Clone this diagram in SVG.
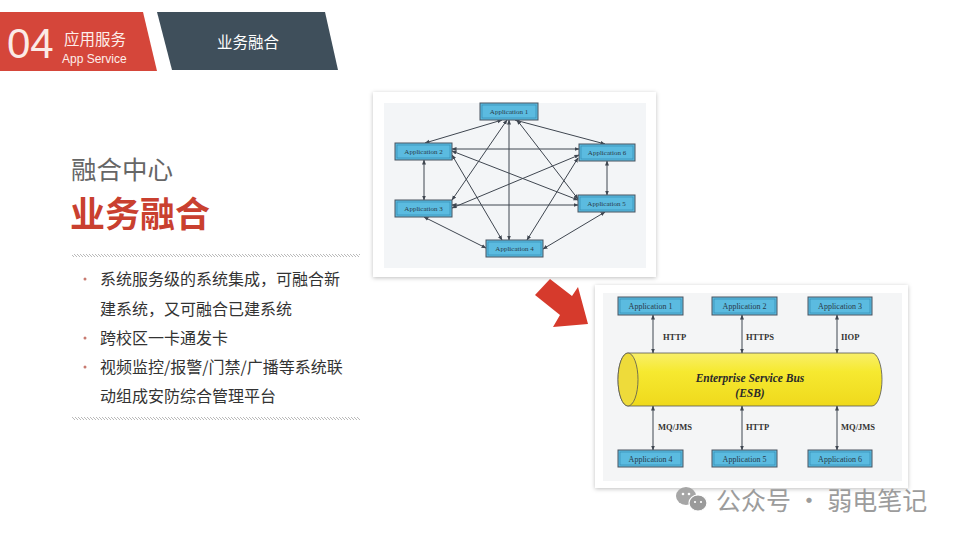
<svg xmlns="http://www.w3.org/2000/svg" width="960" height="540" viewBox="0 0 960 540">
<defs>
<style>
.cjk{font-family:"Noto Sans CJK SC","Liberation Sans",sans-serif}
.lat{font-family:"Liberation Sans",Arial,sans-serif}
.body{font-size:16px;fill:#333}
.app rect.o{fill:#5bbbe0;stroke:#4a5560;stroke-width:1}
.app rect.i{fill:none;stroke:#2f86ad;stroke-width:0.6}
.app text{font-family:"Liberation Serif","Times New Roman",serif;fill:#2a3a48;text-anchor:middle}
.t7{font-size:7px}
.t8{font-size:8px}
.cn{stroke:#3f4650;stroke-width:1;fill:none;marker-start:url(#ah);marker-end:url(#ah)}
.lbl{font-family:"Liberation Serif","Times New Roman",serif;font-weight:bold;font-size:8.5px;fill:#333}
</style>
<marker id="ah" viewBox="0 0 10 10" refX="9" refY="5" markerWidth="5" markerHeight="5" orient="auto-start-reverse" markerUnits="userSpaceOnUse">
<path d="M0,1 L10,5 L0,9 Z" fill="#3f4650"/>
</marker>
<pattern id="hatch" width="3" height="3" patternUnits="userSpaceOnUse">
<path d="M0,0 L3,3" stroke="#a8a8a8" stroke-width="0.8"/>
</pattern>
<filter id="sh" x="-10%" y="-10%" width="120%" height="120%">
<feDropShadow dx="0" dy="1" stdDeviation="2" flood-color="#000" flood-opacity="0.25"/>
</filter>
<linearGradient id="yel" x1="0" y1="0" x2="0" y2="1">
<stop offset="0" stop-color="#f8ef6a"/>
<stop offset="0.35" stop-color="#f6e930"/>
<stop offset="1" stop-color="#efd91c"/>
</linearGradient>
</defs>
<rect width="960" height="540" fill="#ffffff"/>

<g id="header">
<polygon points="0,12 143,12 157,71 0,71" fill="#d5463a"/>
<polygon points="157,12 325,12 338,70 172,70" fill="#3f4f5b"/>
<text x="7" y="58" class="lat" font-size="42" fill="#fbeae6">04</text>
<text x="64" y="45" class="cjk" font-size="15.5" fill="#fdeeea">应用服务</text>
<text x="62" y="63" class="lat" font-size="12" fill="#fdeeea">App Service</text>
<text x="248" y="48" class="cjk" font-size="15.5" fill="#ffffff" text-anchor="middle">业务融合</text>
</g>

<g id="title">
<text x="71" y="178.5" class="cjk" font-size="25.5" fill="#666666">融合中心</text>
<text x="70" y="226.5" class="cjk" font-size="35" font-weight="bold" fill="#c9402f">业务融合</text>
<rect x="72" y="254" width="288" height="3" fill="url(#hatch)"/>
<rect x="72" y="417" width="288" height="3" fill="url(#hatch)"/>
</g>

<g id="bullets">
<circle cx="85" cy="279" r="1.5" fill="#c87a70"/>
<circle cx="85" cy="338" r="1.5" fill="#c87a70"/>
<circle cx="85" cy="367" r="1.5" fill="#c87a70"/>
<text x="100" y="285" class="cjk body">系统服务级的系统集成，可融合新</text>
<text x="100" y="315" class="cjk body">建系统，又可融合已建系统</text>
<text x="100" y="344" class="cjk body">跨校区一卡通发卡</text>
<text x="100" y="373" class="cjk body">视频监控/报警/门禁/广播等系统联</text>
<text x="100" y="402" class="cjk body">动组成安防综合管理平台</text>
</g>

<g id="picture-mesh">
<rect x="373" y="92" width="283" height="185" fill="#ffffff" filter="url(#sh)"/>
<rect x="384" y="103" width="262" height="165" fill="#f3f5f7"/>
</g>

<g id="mesh-connectors">
<line class="cn" x1="502" y1="120" x2="425" y2="143"/>
<line class="cn" x1="515" y1="120" x2="605" y2="144"/>
<line class="cn" x1="509" y1="120" x2="509" y2="240"/>
<line class="cn" x1="507" y1="120" x2="452" y2="200"/>
<line class="cn" x1="517" y1="120" x2="578" y2="199"/>
<line class="cn" x1="452" y1="149" x2="579" y2="149"/>
<line class="cn" x1="452" y1="151" x2="578" y2="200"/>
<line class="cn" x1="452" y1="155" x2="502" y2="240"/>
<line class="cn" x1="424" y1="160" x2="424" y2="200"/>
<line class="cn" x1="579" y1="155" x2="452" y2="208"/>
<line class="cn" x1="578" y1="158" x2="527" y2="240"/>
<line class="cn" x1="607" y1="161" x2="607" y2="195"/>
<line class="cn" x1="452" y1="205" x2="578" y2="205"/>
<line class="cn" x1="424" y1="217" x2="486" y2="248"/>
<line class="cn" x1="605" y1="212" x2="543" y2="249"/>
</g>

<g id="m-app1" class="app"><rect class="o" x="480" y="103" width="58" height="17"/><rect class="i" x="482" y="105" width="54" height="13"/><text class="t7" x="509" y="114">Application 1</text></g>
<g id="m-app2" class="app"><rect class="o" x="395" y="143" width="57" height="17"/><rect class="i" x="397" y="145" width="53" height="13"/><text class="t7" x="423.5" y="154">Application 2</text></g>
<g id="m-app6" class="app"><rect class="o" x="579" y="144" width="56" height="17"/><rect class="i" x="581" y="146" width="52" height="13"/><text class="t7" x="607" y="155">Application 6</text></g>
<g id="m-app3" class="app"><rect class="o" x="395" y="200" width="57" height="17"/><rect class="i" x="397" y="202" width="53" height="13"/><text class="t7" x="423.5" y="211">Application 3</text></g>
<g id="m-app5" class="app"><rect class="o" x="578" y="195" width="57" height="17"/><rect class="i" x="580" y="197" width="53" height="13"/><text class="t7" x="606.5" y="206">Application 5</text></g>
<g id="m-app4" class="app"><rect class="o" x="486" y="240" width="57" height="17"/><rect class="i" x="488" y="242" width="53" height="13"/><text class="t7" x="514.5" y="251">Application 4</text></g>

<g id="red-arrow">
<polygon points="535,295 550,279 572,296 578,287 588,324 553,327 560,315" fill="#d63a2c"/>
</g>

<g id="picture-esb">
<rect x="595" y="285" width="313" height="203" fill="#ffffff" filter="url(#sh)"/>
<rect x="603" y="293" width="299" height="188" fill="#f4f5f6"/>
</g>

<g id="esb-bus">
<path d="M628,353 L872,353 A10,26.5 0 0 1 872,406 L628,406 A10,26.5 0 0 1 628,353 Z" fill="url(#yel)" stroke="#555" stroke-width="0.8"/>
<ellipse cx="628" cy="379.5" rx="10" ry="26.5" fill="#eedb3a" stroke="#555" stroke-width="0.8"/>
<text x="750" y="382" text-anchor="middle" font-family="Liberation Serif,Times New Roman,serif" font-weight="bold" font-style="italic" font-size="11.5" fill="#2a2a2a">Enterprise Service Bus</text>
<text x="750" y="397" text-anchor="middle" font-family="Liberation Serif,Times New Roman,serif" font-weight="bold" font-style="italic" font-size="11.5" fill="#2a2a2a">(ESB)</text>
</g>

<g id="esb-connectors">
<line class="cn" x1="653" y1="315" x2="653" y2="353"/>
<line class="cn" x1="742" y1="315" x2="742" y2="353"/>
<line class="cn" x1="837" y1="315" x2="837" y2="353"/>
<line class="cn" x1="653" y1="406" x2="653" y2="450"/>
<line class="cn" x1="742" y1="406" x2="742" y2="450"/>
<line class="cn" x1="837" y1="406" x2="837" y2="450"/>
<text class="lbl" x="663" y="340">HTTP</text>
<text class="lbl" x="746" y="340">HTTPS</text>
<text class="lbl" x="841" y="340">IIOP</text>
<text class="lbl" x="658" y="430">MQ/JMS</text>
<text class="lbl" x="746" y="430">HTTP</text>
<text class="lbl" x="841" y="430">MQ/JMS</text>
</g>

<g id="e-app1" class="app"><rect class="o" x="618" y="297" width="65" height="18"/><rect class="i" x="620" y="299" width="61" height="14"/><text class="t8" x="650.5" y="309">Application 1</text></g>
<g id="e-app2" class="app"><rect class="o" x="712" y="297" width="65" height="18"/><rect class="i" x="714" y="299" width="61" height="14"/><text class="t8" x="744.5" y="309">Application 2</text></g>
<g id="e-app3" class="app"><rect class="o" x="808" y="297" width="64" height="18"/><rect class="i" x="810" y="299" width="60" height="14"/><text class="t8" x="840" y="309">Application 3</text></g>
<g id="e-app4" class="app"><rect class="o" x="618" y="450" width="65" height="17"/><rect class="i" x="620" y="452" width="61" height="13"/><text class="t8" x="650.5" y="461.5">Application 4</text></g>
<g id="e-app5" class="app"><rect class="o" x="712" y="450" width="65" height="17"/><rect class="i" x="714" y="452" width="61" height="13"/><text class="t8" x="744.5" y="461.5">Application 5</text></g>
<g id="e-app6" class="app"><rect class="o" x="808" y="450" width="64" height="17"/><rect class="i" x="810" y="452" width="60" height="13"/><text class="t8" x="840" y="461.5">Application 6</text></g>

<g id="watermark">
<ellipse cx="686" cy="496" rx="10" ry="9" fill="#a6a6a6"/>
<ellipse cx="698" cy="503" rx="9" ry="8" fill="#9a9a9a" stroke="#ffffff" stroke-width="1.2"/>
<circle cx="683" cy="494" r="1.3" fill="#fff"/>
<circle cx="689" cy="494" r="1.3" fill="#fff"/>
<circle cx="695" cy="502" r="1.1" fill="#fff"/>
<circle cx="701" cy="502" r="1.1" fill="#fff"/>
<text x="716" y="510" class="cjk" font-size="25" fill="#9c9c9c">公众号 · 弱电笔记</text>
</g>
</svg>
